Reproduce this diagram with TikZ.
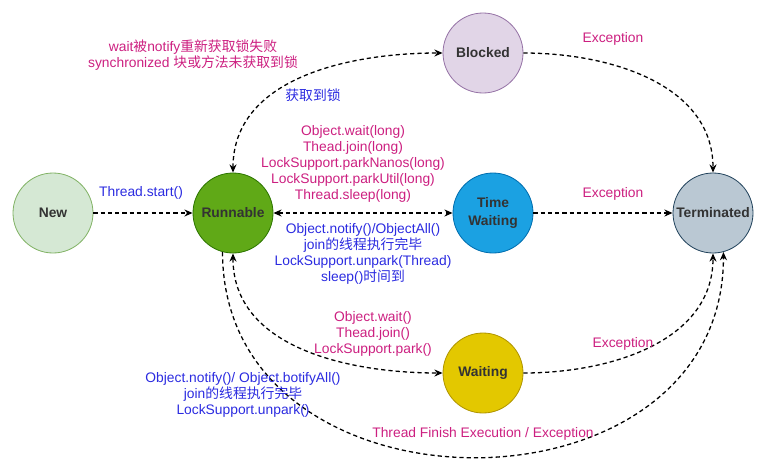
\documentclass[tikz,border=0pt]{standalone}
\usepackage{fontspec}
\setmainfont{Liberation Sans}
\newfontfamily\cjk{Noto Sans CJK SC}
\usetikzlibrary{arrows.meta}
\definecolor{pinktext}{HTML}{CC1F80}
\definecolor{bluetext}{HTML}{2B2BE0}
\definecolor{nodetext}{HTML}{333333}

\begin{document}
\begin{tikzpicture}[x=0.03cm,y=-0.03cm,
		state/.style={circle,draw,line width=0.7pt,minimum size=2.4cm,inner sep=0pt,align=center,text=nodetext,font=\fontsize{11.8}{15}\selectfont\bfseries},
		trans/.style={line width=1.1pt,dash pattern=on 3.6pt off 2.6pt,>={Stealth[length=7pt,width=6pt]}},
		pinklbl/.style={text=pinktext,align=center,inner sep=0pt,font=\fontsize{11.8}{13.6}\selectfont},
		bluelbl/.style={text=bluetext,align=center,inner sep=0pt,font=\fontsize{11.8}{13.6}\selectfont}]
			\useasboundingbox (0,0) rectangle (767,473);
			\node[state,fill={rgb,255:red,213;green,232;blue,212},draw={rgb,255:red,130;green,179;blue,102}] (new) at (53,213) {New};
			\node[state,fill={rgb,255:red,96;green,169;blue,23},draw={rgb,255:red,45;green,118;blue,0}] (run) at (233,213) {Runnable};
			\node[state,fill={rgb,255:red,225;green,213;blue,231},draw={rgb,255:red,150;green,115;blue,166}] (blk) at (483,53) {Blocked};
			\node[state,fill={rgb,255:red,27;green,161;blue,226},draw={rgb,255:red,0;green,110;blue,175}] (tw) at (493,213) {Time\\Waiting};
			\node[state,fill={rgb,255:red,227;green,200;blue,0},draw={rgb,255:red,176;green,149;blue,0}] (wt) at (483,373) {Waiting};
			\node[state,fill={rgb,255:red,186;green,200;blue,211},draw={rgb,255:red,35;green,68;blue,93}] (term) at (713,213) {Terminated};
			\draw[trans,->] (new) -- (run);
			\draw[trans,<->] (run.north) to[out=90,in=180] (blk.west);
			\draw[trans,<->] (run) -- (tw);
			\draw[trans,<->] (run.south) to[out=-90,in=180] (wt.west);
			\draw[trans,->] (run.255) to[out=-90,in=-90,looseness=1.4] (term.285);
			\draw[trans,->] (blk.east) to[out=0,in=90] (term.north);
			\draw[trans,->] (tw) -- (term);
			\draw[trans,->] (wt.east) to[out=0,in=-90] (term.south);
			\node[bluelbl] (start) at (141,193) {Thread.start()};
			\node[pinklbl] (fail) at (193,55) {wait{\cjk 被}notify{\cjk 重新获取锁失败}\\synchronized {\cjk 块或方法未获取到锁}};
			\node[bluelbl] (lock) at (313,95) {\cjk 获取到锁};
			\node[pinklbl] (towait) at (353,164) {Object.wait(long)\\Thead.join(long)\\LockSupport.parkNanos(long)\\LockSupport.parkUtil(long)\\Thread.sleep(long)};
			\node[bluelbl] (fromtw) at (363,254) {Object.notify()/ObjectAll()\\join{\cjk 的线程执行完毕}\\LockSupport.unpark(Thread)\\sleep(){\cjk 时间到}};
			\node[pinklbl] (waitin) at (373,334) {Object.wait()\\Thead.join()\\LockSupport.park()};
			\node[bluelbl] (waitout) at (243,395) {Object.notify()/ Object.botifyAll()\\join{\cjk 的线程执行完毕}\\LockSupport.unpark()};
			\node[pinklbl] (exca) at (613,39) {Exception};
			\node[pinklbl] (excb) at (613,194) {Exception};
			\node[pinklbl] (excc) at (623,344) {Exception};
			\node[pinklbl] (finish) at (483,434) {Thread Finish Execution / Exception};
		\end{tikzpicture}
\end{document}
